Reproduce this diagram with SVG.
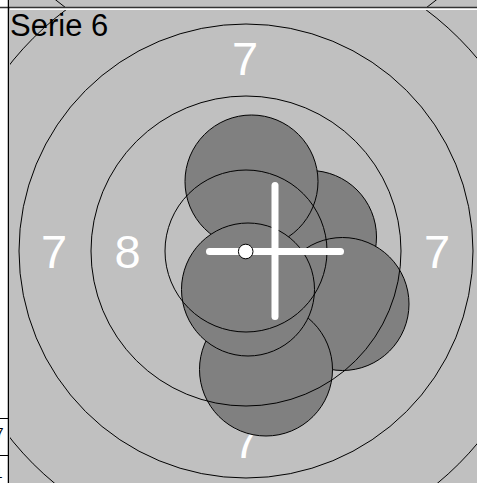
<svg xmlns="http://www.w3.org/2000/svg" width="477" height="483" viewBox="0 0 477 483">
<defs>
<style>
.ring{fill:none;stroke:#000;stroke-width:1}
.shot{fill:#808080;stroke:#000;stroke-width:1}
.lbl{font-family:"Liberation Sans",Arial,sans-serif;font-size:47px;fill:#fff;text-anchor:middle}
.side{font-family:"Liberation Sans",Arial,sans-serif;font-size:14px;fill:#000;text-anchor:end}
</style>
<clipPath id="main"><rect x="10" y="10" width="467" height="473"/></clipPath>
<clipPath id="upper"><rect x="10" y="0" width="467" height="7"/></clipPath>
</defs>
<rect x="0" y="0" width="477" height="483" fill="#fff"/>
<g id="upper-panel">
<rect x="10" y="0" width="467" height="7" fill="#c0c0c0"/>
<circle class="ring" cx="246" cy="-232" r="300" clip-path="url(#upper)"/>
</g>
<line x1="0" y1="7.5" x2="477" y2="7.5" stroke="#333" stroke-width="1.5"/>
<line x1="8.5" y1="0" x2="8.5" y2="483" stroke="#000" stroke-width="1.5"/>
<g id="side-table">
<line x1="0" y1="418.5" x2="8" y2="418.5" stroke="#000" stroke-width="1"/>
<line x1="0" y1="455.5" x2="8" y2="455.5" stroke="#000" stroke-width="1"/>
<text class="side" x="3.5" y="438">7</text>
<text class="side" x="2.5" y="478">1</text>
</g>
<g id="target" clip-path="url(#main)">
<rect x="10" y="10" width="467" height="473" fill="#c0c0c0"/>
<g id="labels">
<text class="lbl" x="245" y="75">7</text>
<text class="lbl" x="54" y="268">7</text>
<text class="lbl" x="127.5" y="268">8</text>
<text class="lbl" x="437" y="268">7</text>
<text class="lbl" x="246" y="458">7</text>
</g>
<g id="shots">
<circle class="shot" cx="310" cy="237" r="66.5"/>
<circle class="shot" cx="251.5" cy="181.5" r="66.5"/>
<circle class="shot" cx="342.5" cy="304" r="66.5"/>
<circle class="shot" cx="266" cy="369.5" r="66.5"/>
<circle class="shot" cx="248" cy="289.5" r="66.5"/>
</g>
<g id="rings">
<circle class="ring" cx="246" cy="251" r="81"/>
<circle class="ring" cx="246" cy="251" r="155"/>
<circle class="ring" cx="246" cy="251" r="227"/>
<circle class="ring" cx="246" cy="251" r="301"/>
</g>
<g id="crosshair" stroke="#fff" stroke-width="7" stroke-linecap="round">
<line x1="209.5" y1="251.5" x2="340.5" y2="251.5"/>
<line x1="275" y1="185.5" x2="275" y2="316.5"/>
</g>
<circle id="center" cx="245.7" cy="251.5" r="7.3" fill="#fff" stroke="#000" stroke-width="1"/>
</g>
<line x1="10" y1="9.5" x2="477" y2="9.5" stroke="#fff" stroke-width="1"/>
<text id="title" x="10" y="36" font-family="Liberation Sans, Arial, sans-serif" font-size="31" fill="#000">Serie 6</text>
</svg>
